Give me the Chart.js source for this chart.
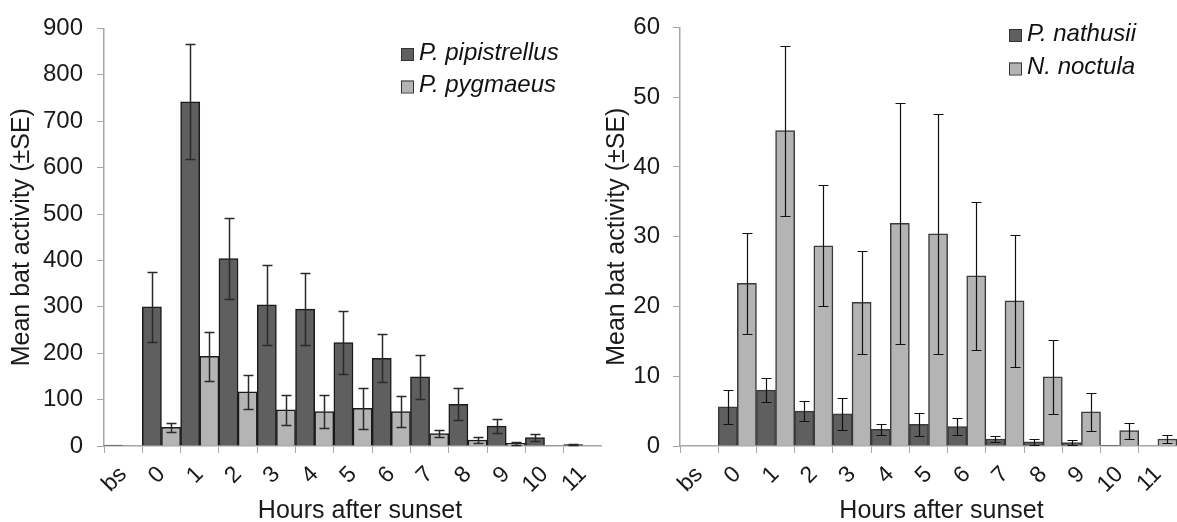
<!DOCTYPE html>
<html lang="en">
<head>
    <meta charset="UTF-8">
    <title>Bat activity after sunset</title>
    <script src="https://cdn.jsdelivr.net/npm/chart.js@4.4.1/dist/chart.umd.min.js"></script>
    <style>
        body {
            margin: 0;
            background: #fff;
            overflow: hidden;
        }
        .panel {
            position: absolute;
            top: 0;
            height: 522px;
        }
        #left {
            left: 0;
            width: 602px;
        }
        #right {
            left: 596px;
            width: 581px;
        }
    </style>
</head>
<body>
    <div class="panel" id="left"><canvas id="leftChart"></canvas></div>
    <div class="panel" id="right"><canvas id="rightChart"></canvas></div>

    <script>
        // Hours after sunset (bs = before sunset)
        const hours = ['bs', '0', '1', '2', '3', '4', '5', '6', '7', '8', '9', '10', '11'];

        // Left panel
        const pipMean = [2, 300, 742, 404, 304, 295, 223, 189, 149, 90, 43, 18, 3];
        const pipSE   = [0, 75, 124, 87, 86, 77, 68, 52, 48, 35, 15, 7, 1];
        const pygMean = [0, 40, 193, 117, 78, 74, 81, 74, 27, 13, 6, 1, 0];
        const pygSE   = [0, 9, 53, 37, 32, 35, 45, 33, 8, 6, 3, 0, 0];

        // Right panel
        const natMean = [0, 5.6, 8.0, 5.0, 4.6, 2.4, 3.1, 2.8, 1.0, 0.6, 0.5, 0.1, 0];
        const natSE   = [0, 2.4, 1.7, 1.4, 2.3, 0.8, 1.7, 1.2, 0.4, 0.4, 0.3, 0, 0];
        const nocMean = [0, 23.3, 45.2, 28.7, 20.6, 31.9, 30.4, 24.4, 20.8, 9.9, 4.9, 2.2, 1.0];
        const nocSE   = [0, 7.2, 12.2, 8.7, 7.4, 17.3, 17.2, 10.6, 9.5, 5.3, 2.75, 1.15, 0.6];

        const FONT = '"Liberation Sans", Arial, sans-serif';
        const AXIS = '#a6a6a6';
        const DARK = '#5f5f5f';
        const LIGHT = '#b4b4b4';

        // error bars (±SE) drawn on top of the bars
        const errorBars = {
            id: 'errorBars',
            afterDatasetsDraw(chart, args, opts) {
                const ctx = chart.ctx;
                const y = chart.scales.y;
                ctx.save();
                ctx.strokeStyle = opts.color;
                ctx.lineWidth = opts.width;
                chart.data.datasets.forEach((ds, i) => {
                    const meta = chart.getDatasetMeta(i);
                    meta.data.forEach((bar, j) => {
                        const se = ds.errors[j];
                        if (!se) return;
                        const v = ds.data[j];
                        const top = Math.round(y.getPixelForValue(v + se)) + 0.5;
                        const bot = Math.round(y.getPixelForValue(v - se)) + 0.5;
                        const x = Math.round(bar.x) + 0.5;
                        ctx.beginPath();
                        ctx.moveTo(x, top); ctx.lineTo(x, bot);
                        ctx.moveTo(x - opts.cap, top); ctx.lineTo(x + opts.cap, top);
                        ctx.moveTo(x - opts.cap, bot); ctx.lineTo(x + opts.cap, bot);
                        ctx.stroke();
                    });
                });
                ctx.restore();
            }
        };

        // legend placed inside the plot, top right, plus the x title
        // (Excel puts it a little right of the plot centre)
        const floatLegend = {
            id: 'floatLegend',
            afterDraw(chart, args, opts) {
                const ctx = chart.ctx;
                ctx.save();
                ctx.font = 'italic 24px ' + FONT;
                ctx.textBaseline = 'middle';
                chart.data.datasets.forEach((ds, i) => {
                    const top = opts.y + i * opts.gap;
                    ctx.fillStyle = ds.backgroundColor;
                    ctx.fillRect(opts.x, top, 12, 12);
                    ctx.strokeStyle = '#333';
                    ctx.lineWidth = 1;
                    ctx.strokeRect(opts.x + 0.5, top + 0.5, 12, 12);
                    ctx.fillStyle = '#111';
                    ctx.fillText(ds.label, opts.x + 18, top + 5);
                });

                const area = chart.chartArea;
                ctx.font = '25px ' + FONT;
                ctx.fillStyle = '#1a1a1a';
                ctx.textAlign = 'center';
                ctx.textBaseline = 'alphabetic';
                ctx.fillText(opts.xTitle, (area.left + area.right) / 2 + opts.xShift, 518);
                ctx.restore();
            }
        };

        function makeChart(id, cfg) {
            return new Chart(document.getElementById(id), {
                type: 'bar',
                data: {
                    labels: hours,
                    datasets: cfg.series.map(s => ({
                        label: s.label,
                        data: s.data,
                        errors: s.errors,
                        backgroundColor: s.color,
                        borderColor: cfg.border,
                        borderWidth: 1.5,
                        categoryPercentage: 1,
                        barPercentage: 1
                    }))
                },
                options: {
                    responsive: true,
                    maintainAspectRatio: false,
                    animation: false,
                    layout: { padding: { top: 24, right: 0, left: 0, bottom: 0 } },
                    plugins: {
                        legend: { display: false },
                        tooltip: { enabled: false },
                        errorBars: { color: cfg.errColor, width: cfg.errWidth, cap: 5 },
                        floatLegend: Object.assign({ xTitle: 'Hours after sunset' }, cfg.legend)
                    },
                    scales: {
                        x: {
                            grid: { display: true, drawOnChartArea: false, drawTicks: true, tickLength: 7, color: AXIS, offset: true },
                            border: { display: true, color: AXIS, width: 1.5 },
                            ticks: {
                                color: '#1a1a1a',
                                font: { family: FONT, size: 23 },
                                maxRotation: 45,
                                minRotation: 45,
                                autoSkip: false,
                                padding: 8
                            },
                            afterFit(scale) {
                                scale.height = 76;
                                scale.paddingLeft = 0;
                                scale.paddingRight = 0;
                            }
                        },
                        y: {
                            min: 0,
                            max: cfg.max,
                            grid: { display: true, drawOnChartArea: false, drawTicks: true, tickLength: 7, color: AXIS },
                            border: { display: true, color: AXIS, width: 1.5 },
                            ticks: {
                                stepSize: cfg.step,
                                color: '#1a1a1a',
                                font: { family: FONT, size: 24 },
                                padding: cfg.tickPad
                            },
                            title: {
                                display: true,
                                text: 'Mean bat activity (±SE)',
                                color: '#1a1a1a',
                                font: { family: FONT, size: 25, lineHeight: 1 },
                                padding: { top: cfg.titlePad, bottom: 0 }
                            },
                            afterFit(scale) {
                                scale.width = cfg.axisWidth;
                            }
                        }
                    }
                },
                plugins: [errorBars, floatLegend]
            });
        }

        makeChart('leftChart', {
            series: [
                { label: 'P. pipistrellus', data: pipMean, errors: pipSE, color: DARK },
                { label: 'P. pygmaeus', data: pygMean, errors: pygSE, color: LIGHT }
            ],
            border: '#1a1a1a',
            errColor: '#2a2a2a',
            errWidth: 1.5,
            max: 900,
            step: 100,
            axisWidth: 104,
            tickPad: 14,
            titlePad: 10,
            legend: { x: 401, y: 48, gap: 32.5, xShift: 7 }
        });

        makeChart('rightChart', {
            series: [
                { label: 'P. nathusii', data: natMean, errors: natSE, color: DARK },
                { label: 'N. noctula', data: nocMean, errors: nocSE, color: LIGHT }
            ],
            border: '#3a3a3a',
            errColor: '#111',
            errWidth: 1.2,
            max: 60,
            step: 10,
            axisWidth: 84,
            tickPad: 13,
            titlePad: 9,
            legend: { x: 413, y: 29, gap: 33.5, xShift: 13 }
        });
    </script>
</body>
</html>
